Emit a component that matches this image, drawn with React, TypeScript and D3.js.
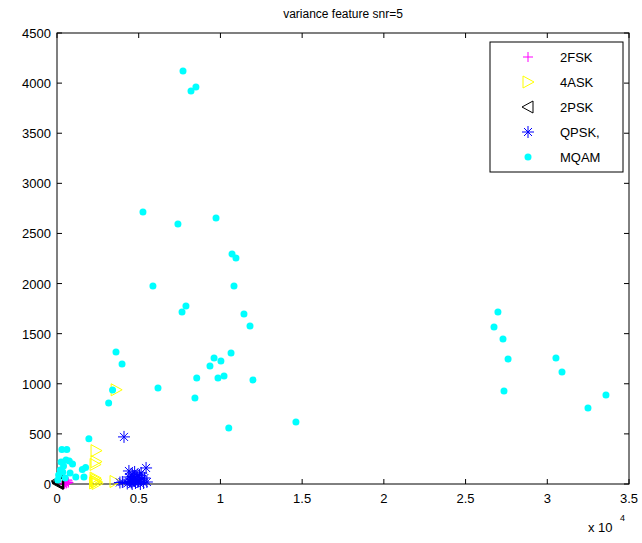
import React from 'react';
import * as d3 from 'd3';

// values (x, y)
const fsk2: [number, number][] = [
  [450, 0], [520, 20], [600, 10], [650, 30], [560, 5], [700, 15], [620, 40],
];
const ask4: [number, number][] = [
  [2390, 333], [2390, 223], [2330, 195], [2300, 10], [2350, 30], [2420, 20],
  [2460, 5], [2380, 45], [2330, 60], [3550, 25], [3620, 940],
];
const psk2: [number, number][] = [
  [40, 20], [90, 10], [20, 30], [70, 5], [110, 15],
];
const qpsk: [number, number][] = [
  [4100, 470], [5450, 160], [4600, 100], [4000, 20], [4300, 5], [4500, 40],
  [4700, 60], [4800, 10], [5000, 30], [5200, 50], [5300, 10], [4900, 80],
  [4600, 0], [4400, 70], [5100, 0], [5500, 20], [4700, 30], [4550, 15],
  [4850, 45], [5050, 90], [4750, 120], [4950, 20], [5350, 60], [3850, 15],
  [4650, 75], [4450, 25], [5150, 110], [4400, 130],
];
const mqam: [number, number][] = [
  [7710, 4121], [8200, 3921], [8500, 3961], [5260, 2714], [7400, 2594],
  [9730, 2654], [10710, 2295], [10950, 2255], [5870, 1976], [10830, 1976],
  [7890, 1776], [7650, 1716], [11440, 1696], [11810, 1576], [3610, 1317],
  [10650, 1307], [9610, 1257], [10030, 1227], [9360, 1177], [3980, 1197],
  [10220, 1077], [9850, 1058], [11990, 1038], [6180, 958], [8550, 1058],
  [8440, 858], [10510, 559], [3400, 938], [3160, 808],
  [26980, 1716], [26740, 1566], [27290, 1447], [27600, 1247], [27350, 928],
  [30530, 1257], [30900, 1118], [32490, 758], [33590, 888], [14620, 619],
  [1950, 452], [300, 345], [600, 345], [250, 220], [550, 240], [750, 230],
  [950, 200], [200, 140], [350, 120], [800, 110], [1150, 70], [100, 90],
  [1550, 145], [1750, 165], [1650, 70], [50, 40], [500, 60], [400, 180],
];

const xTicks = [0, 5000, 10000, 15000, 20000, 25000, 30000, 35000];
const xTickLabels = ['0', '0.5', '1', '1.5', '2', '2.5', '3', '3.5'];
const yTicks = [0, 500, 1000, 1500, 2000, 2500, 3000, 3500, 4000, 4500];
const legendLabels = ['2FSK', '4ASK', '2PSK', 'QPSK,', 'MQAM'];

const W = 642;
const H = 543;
const left = 57;
const right = 629;
const top = 33;
const bottom = 484;

const x = d3.scaleLinear().domain([0, 35000]).range([left, right]);
const y = d3.scaleLinear().domain([0, 4500]).range([bottom, top]);

const font = '"Liberation Sans", Arial, sans-serif';

const Plus = ({ cx, cy }: { cx: number; cy: number }) => (
  <path d={`M${cx - 5},${cy}H${cx + 5}M${cx},${cy - 5}V${cy + 5}`} stroke="#ff00ff" fill="none" />
);
const TriRight = ({ cx, cy }: { cx: number; cy: number }) => (
  <path d={`M${cx - 5},${cy - 6}L${cx + 6},${cy}L${cx - 5},${cy + 6}Z`} stroke="#ffff00" fill="none" />
);
const TriLeft = ({ cx, cy }: { cx: number; cy: number }) => (
  <path d={`M${cx + 5},${cy - 6}L${cx - 6},${cy}L${cx + 5},${cy + 6}Z`} stroke="#000" fill="none" />
);
const Star = ({ cx, cy }: { cx: number; cy: number }) => (
  <path
    d={`M${cx - 6},${cy}H${cx + 6}M${cx},${cy - 6}V${cy + 6}M${cx - 4},${cy - 4}L${cx + 4},${cy + 4}M${cx - 4},${cy + 4}L${cx + 4},${cy - 4}`}
    stroke="#0000ff"
    fill="none"
  />
);
const Dot = ({ cx, cy }: { cx: number; cy: number }) => (
  <circle cx={cx} cy={cy} r={3.5} fill="#00ffff" />
);

const markers = [Plus, TriRight, TriLeft, Star, Dot];

export default function App() {
  return (
    <svg width={W} height={H} style={{ position: 'absolute', left: 0, top: 0 }}>
      <rect width={W} height={H} fill="#fff" />
      <text x={343} y={18} textAnchor="middle" fontFamily={font} fontSize={12}>
        variance feature snr=5
      </text>
      {/* ticks, inward on all sides */}
      {xTicks.map((t) => (
        <g key={'x' + t}>
          <line x1={x(t)} x2={x(t)} y1={bottom} y2={bottom - 5} stroke="#000" />
          <line x1={x(t)} x2={x(t)} y1={top} y2={top + 5} stroke="#000" />
        </g>
      ))}
      {yTicks.map((t) => (
        <g key={'y' + t}>
          <line x1={left} x2={left + 5} y1={y(t)} y2={y(t)} stroke="#000" />
          <line x1={right} x2={right - 5} y1={y(t)} y2={y(t)} stroke="#000" />
        </g>
      ))}
      <rect x={left} y={top} width={right - left} height={bottom - top} fill="none" stroke="#000" />
      {xTicks.map((t, i) => (
        <text key={'xl' + t} x={x(t)} y={503} textAnchor="middle" fontFamily={font} fontSize={13}>
          {xTickLabels[i]}
        </text>
      ))}
      {yTicks.map((t) => (
        <text key={'yl' + t} x={51} y={y(t) + 5} textAnchor="end" fontFamily={font} fontSize={13}>
          {t}
        </text>
      ))}
      <text x={588} y={532} fontFamily={font} fontSize={13}>
        x 10
      </text>
      <text x={620} y={521} fontFamily={font} fontSize={9}>
        4
      </text>
      {/* data */}
      {fsk2.map((d, i) => <Plus key={'f' + i} cx={x(d[0])} cy={y(d[1])} />)}
      {ask4.map((d, i) => <TriRight key={'a' + i} cx={x(d[0])} cy={y(d[1])} />)}
      {psk2.map((d, i) => <TriLeft key={'p' + i} cx={x(d[0])} cy={y(d[1])} />)}
      {qpsk.map((d, i) => <Star key={'q' + i} cx={x(d[0])} cy={y(d[1])} />)}
      {mqam.map((d, i) => <Dot key={'m' + i} cx={x(d[0])} cy={y(d[1])} />)}
      {/* legend */}
      <rect x={490} y={42} width={133} height={130} fill="#fff" stroke="#000" />
      {legendLabels.map((l, i) => {
        const M = markers[i];
        const cy = 57 + i * 25;
        return (
          <g key={l}>
            <M cx={528} cy={cy} />
            <text x={560} y={cy + 5} fontFamily={font} fontSize={13}>
              {l}
            </text>
          </g>
        );
      })}
    </svg>
  );
}
